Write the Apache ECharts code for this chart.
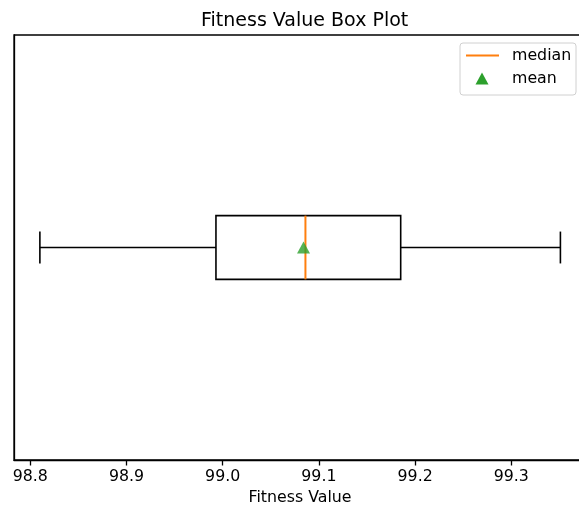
<!DOCTYPE html>
<html>
<head>
<meta charset="utf-8">
<script src="https://cdn.jsdelivr.net/npm/echarts@6/dist/echarts.min.js"></script>
<style>
  html, body { margin: 0; padding: 0; background: #fff; }
  #chart { width: 579px; height: 513px; }
</style>
</head>
<body>
<div id="chart"></div>
<script>
// Five-number summary of the fitness values (whisker low, Q1, median, Q3, whisker high)
const boxStats = [98.810, 98.993, 99.086, 99.185, 99.351];
const meanValue = 99.084;
const boxPosition = 1;
const xTicks = [98.8, 98.9, 99.0, 99.1, 99.2, 99.3];
const xRange = [98.7831, 99.3776];

const FONT = 'DejaVu Sans';
const BOX_HALF = 0.075;   // half box height in y-axis units
const CAP_HALF = 0.0375;  // half whisker cap length
const LW = 1.6;

const chart = echarts.init(document.getElementById('chart'), null, { renderer: 'canvas' });

function renderBox(params, api) {
  const lo = api.value(0), q1 = api.value(1), med = api.value(2),
        q3 = api.value(3), hi = api.value(4), pos = api.value(5);
  const c = (x, y) => api.coord([x, y]);
  const line = (a, b, color) => ({
    type: 'line',
    shape: { x1: a[0], y1: a[1], x2: b[0], y2: b[1] },
    style: { stroke: color || '#000', lineWidth: color ? 2 : LW }
  });
  const tl = c(q1, pos + BOX_HALF), br = c(q3, pos - BOX_HALF);
  return {
    type: 'group',
    children: [
      line(c(lo, pos), c(q1, pos)),
      line(c(q3, pos), c(hi, pos)),
      line(c(lo, pos - CAP_HALF), c(lo, pos + CAP_HALF)),
      line(c(hi, pos - CAP_HALF), c(hi, pos + CAP_HALF)),
      {
        type: 'rect',
        shape: { x: tl[0], y: tl[1], width: br[0] - tl[0], height: br[1] - tl[1] },
        style: { fill: 'none', stroke: '#000', lineWidth: LW }
      },
      line(c(med, pos - BOX_HALF), c(med, pos + BOX_HALF), '#ff7f0e')
    ]
  };
}

const option = {
  animation: false,
  backgroundColor: '#fff',
  textStyle: { fontFamily: FONT },
  title: {
    text: 'Fitness Value Box Plot',
    left: 196,
    top: 7,
    textStyle: { fontFamily: FONT, fontSize: 19, fontWeight: 'normal', color: '#000' }
  },
  grid: {
    left: 14, top: 35, width: 572, height: 425,
    outerBoundsMode: 'none',
    containLabel: false,
    show: true, borderColor: '#000', borderWidth: 1.3, backgroundColor: 'transparent'
  },
  xAxis: {
    type: 'value',
    min: xRange[0], max: xRange[1],
    name: 'Fitness Value',
    nameLocation: 'middle',
    nameGap: 29,
    nameTextStyle: { fontFamily: FONT, fontSize: 15.8, color: '#000' },
    splitLine: { show: false },
    axisLine: { show: true, lineStyle: { color: '#000', width: 1.3 } },
    axisTick: { show: true, customValues: xTicks, length: 5.5, lineStyle: { color: '#000', width: 1.3 } },
    axisLabel: {
      customValues: xTicks,
      margin: 9,
      fontFamily: FONT, fontSize: 15.8, color: '#000',
      formatter: v => v.toFixed(1)
    }
  },
  yAxis: {
    type: 'value',
    min: 0.5, max: 1.5,
    splitLine: { show: false },
    axisLine: { show: true, lineStyle: { color: '#000', width: 1.3 } },
    axisTick: { show: false },
    axisLabel: { show: false }
  },
  series: [
    {
      type: 'custom',
      name: 'median',
      renderItem: renderBox,
      encode: { x: [0, 1, 2, 3, 4], y: 5 },
      data: [[...boxStats, boxPosition]],
      z: 2
    },
    {
      type: 'scatter',
      name: 'mean',
      symbol: 'triangle',
      symbolSize: [13, 12],
      itemStyle: { color: '#2ca02c' },
      data: [[meanValue, boxPosition]],
      z: 3
    }
  ],
  graphic: [
    {
      type: 'rect',
      shape: { x: 460, y: 43, width: 116, height: 52, r: 3 },
      style: { fill: 'rgba(255,255,255,0.8)', stroke: '#d0d0d0', lineWidth: 1 },
      z: 10
    },
    {
      type: 'line',
      shape: { x1: 466, y1: 55.5, x2: 499, y2: 55.5 },
      style: { stroke: '#ff7f0e', lineWidth: 2 },
      z: 11
    },
    {
      type: 'polygon',
      shape: { points: [[482, 72.5], [488.5, 84.5], [475.5, 84.5]] },
      style: { fill: '#2ca02c' },
      z: 11
    },
    {
      type: 'text',
      x: 512, y: 55.5,
      style: { text: 'median', fontFamily: FONT, fontSize: 15.8, fill: '#000', verticalAlign: 'middle' },
      z: 11
    },
    {
      type: 'text',
      x: 512, y: 79,
      style: { text: 'mean', fontFamily: FONT, fontSize: 15.8, fill: '#000', verticalAlign: 'middle' },
      z: 11
    }
  ]
};

chart.setOption(option);
</script>
</body>
</html>
